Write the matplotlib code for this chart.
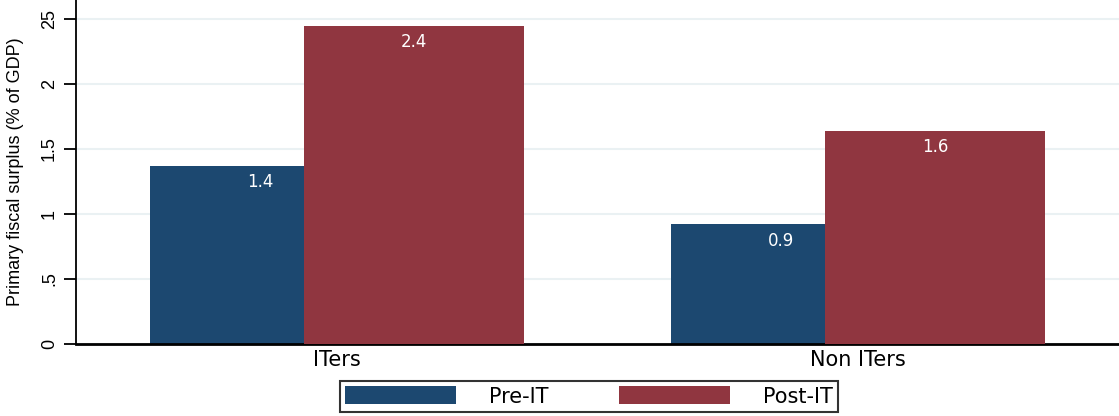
import matplotlib
matplotlib.use("Agg")
import matplotlib.pyplot as plt
import numpy as np

categories = ["ITers", "Non ITers"]
series_names = ["Pre-IT", "Post-IT"]
pre_it = [1.37, 0.92]
post_it = [2.45, 1.64]
pre_labels = ["1.4", "0.9"]
post_labels = ["2.4", "1.6"]
yticks = [0, 0.5, 1, 1.5, 2, 2.5]
ytick_labels = ["0", ".5", "1", "1.5", "2", "25"]

blue = "#1c4870"
red = "#903640"
grid_color = "#eaf1f3"

plt.rcParams["font.family"] = ["Liberation Sans", "DejaVu Sans"]
wide = ["DejaVu Sans"]

fig = plt.figure(figsize=(11.19, 4.16), dpi=100)
ax = fig.add_axes([76 / 1119, (416 - 343.5) / 416, 1 - 76 / 1119, 343.5 / 416])

x = np.arange(len(categories))
width = 0.422
off = 0.1475

b1 = ax.bar(x - off, pre_it, width, color=blue, zorder=2, label=series_names[0])
b2 = ax.bar(x + off, post_it, width, color=red, zorder=3, label=series_names[1])

for xi, v, t in zip(x - off, pre_it, pre_labels):
    ax.annotate(t, (xi, v), xytext=(0, -12), textcoords="offset points",
                ha="center", va="center", color="white", fontsize=12,
                family=wide, zorder=4)
for xi, v, t in zip(x + off, post_it, post_labels):
    ax.annotate(t, (xi, v), xytext=(0, -12), textcoords="offset points",
                ha="center", va="center", color="white", fontsize=12,
                family=wide, zorder=4)

ax.set_xlim(-0.5, 1.5)
ax.set_ylim(0, 2.5 + 19 / 129.6)
ax.set_yticks(yticks)
ax.set_yticklabels(ytick_labels, rotation=90, va="center", fontsize=13)
ax.set_xticks(x)
ax.set_xticklabels(categories, fontsize=15, family=wide)
ax.tick_params(axis="x", length=0, pad=4.5)
ax.tick_params(axis="y", length=9, width=1.3, pad=4)
ax.yaxis.grid(True, color=grid_color, linewidth=1.5, zorder=0)
ax.set_axisbelow(True)

for s in ["top", "right"]:
    ax.spines[s].set_visible(False)
ax.spines["left"].set_linewidth(1.3)
ax.spines["bottom"].set_linewidth(2)

ax.set_ylabel("Primary fiscal surplus (% of GDP)", fontsize=13)
ax.yaxis.set_label_coords((24 - 76) / 1043, 0.5)

leg = fig.legend(handles=[b1, b2], labels=series_names, loc="center",
                 bbox_to_anchor=(340 / 1119, 3 / 416, 498 / 1119, 33 / 416),
                 mode="expand", ncol=2, frameon=True, fancybox=False,
                 prop={"family": wide, "size": 15},
                 edgecolor="black", handlelength=5.3, handleheight=0.95,
                 handletextpad=1.6, columnspacing=2.5, borderpad=0.25,
                 borderaxespad=0)
leg.get_frame().set_linewidth(1.5)

fig.savefig("out.png", dpi=100)
